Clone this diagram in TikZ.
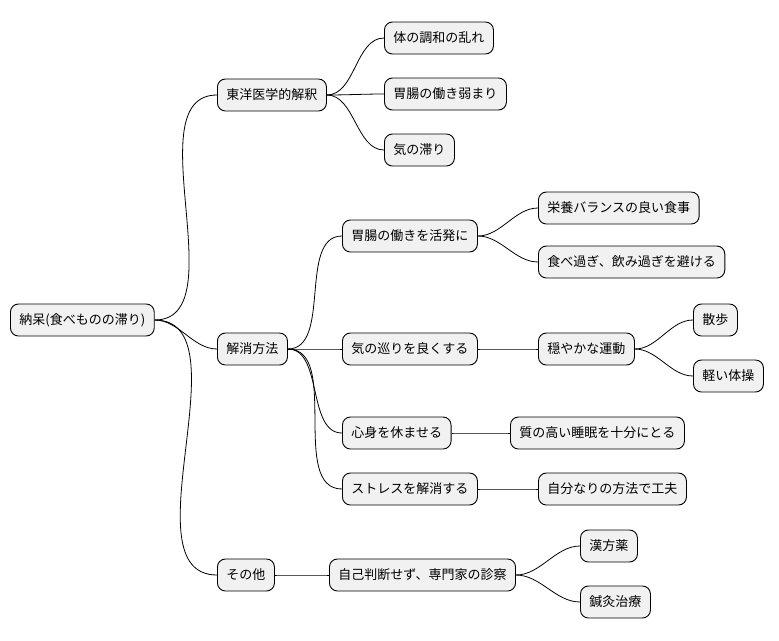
\documentclass[tikz,border=0pt]{standalone}
\usepackage{fontspec}
\setmainfont{Noto Sans CJK JP}
\begin{document}
\begin{tikzpicture}[x=1pt,y=-1pt,
  n/.style={draw=black,line width=0.9pt,fill={rgb,255:red,241;green,241;blue,241},rounded corners=8pt,minimum height=32pt,inner xsep=9pt,anchor=west,font=\fontsize{13}{15}\selectfont},
  c/.style={line width=0.8pt,out=0,in=180,looseness=0.9}]
\useasboundingbox (0,0) rectangle (779,640);
\node[n] (r) at (10,320) {納呆(食べものの滞り)};
\node[n] (a) at (217,95) {東洋医学的解釈};
\node[n] (a1) at (384,38) {体の調和の乱れ};
\node[n] (a2) at (384,94) {胃腸の働き弱まり};
\node[n] (a3) at (384,150) {気の滞り};
\node[n] (b) at (217,349) {解消方法};
\node[n] (b1) at (342,236) {胃腸の働きを活発に};
\node[n] (b11) at (538,208) {栄養バランスの良い食事};
\node[n] (b12) at (538,262) {食べ過ぎ、飲み過ぎを避ける};
\node[n] (b2) at (342,349) {気の巡りを良くする};
\node[n] (b21) at (538,349) {穏やかな運動};
\node[n] (b211) at (693,320) {散歩};
\node[n] (b212) at (693,376) {軽い体操};
\node[n] (b3) at (342,433) {心身を休ませる};
\node[n] (b31) at (510,433) {質の高い睡眠を十分にとる};
\node[n] (b4) at (342,489) {ストレスを解消する};
\node[n] (b41) at (538,489) {自分なりの方法で工夫};
\node[n] (c) at (217,575) {その他};
\node[n] (c1) at (329,575) {自己判断せず、専門家の診察};
\node[n] (c11) at (580,546) {漢方薬};
\node[n] (c12) at (580,602) {鍼灸治療};
\foreach \p/\q in {r/a,r/b,r/c,a/a1,a/a2,a/a3,b/b1,b/b2,b/b3,b/b4,b1/b11,b1/b12,b2/b21,b21/b211,b21/b212,b3/b31,b4/b41,c/c1,c1/c11,c1/c12}
  \draw[c] (\p.east) to (\q.west);
\end{tikzpicture}
\end{document}
